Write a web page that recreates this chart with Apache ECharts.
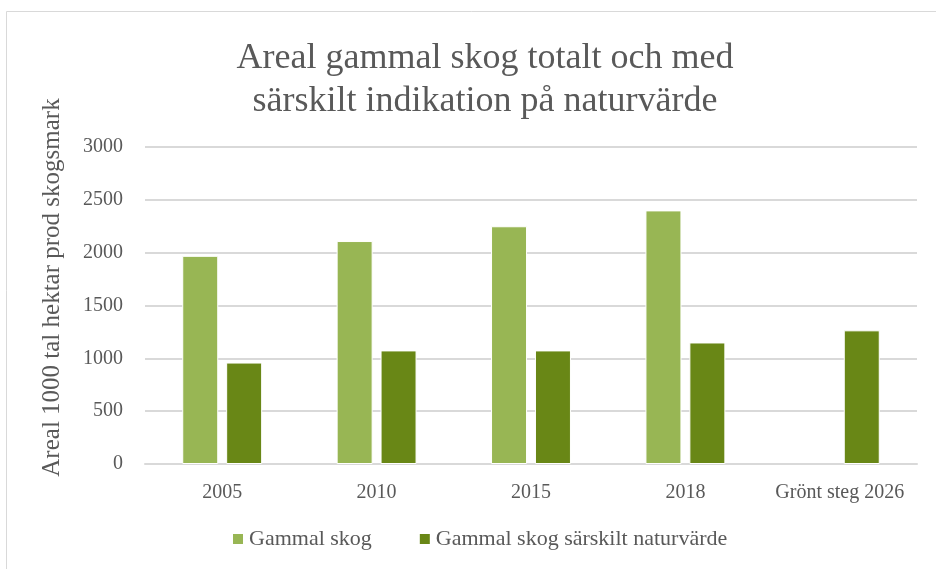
<!DOCTYPE html>
<html><head><meta charset="utf-8">
<script src="https://cdn.jsdelivr.net/npm/echarts@6/dist/echarts.min.js"></script>
<style>html,body{margin:0;padding:0;background:#fff}#c{width:936px;height:569px}</style>
</head><body><div id="c"></div>
<script>
var categories = ['2005', '2010', '2015', '2018', 'Grönt steg 2026'];
var gammalSkog = [1970, 2110, 2250, 2400, null];
var gammalSkogNatur = [960, 1075, 1075, 1150, 1265];
var seriesNames = ['Gammal skog', 'Gammal skog särskilt naturvärde'];
var font = 'Liberation Serif';
var chart = echarts.init(document.getElementById('c'));
chart.setOption({
  animation: false,
  backgroundColor: '#fff',
  graphic: [{type: 'rect', shape: {x: 6.5, y: 11.5, width: 940, height: 570}, style: {fill: 'none', stroke: '#d9d9d9', lineWidth: 1}}],
  title: {
    text: 'Areal gammal skog totalt och med\nsärskilt indikation på naturvärde',
    left: 480, top: 32, textAlign: 'center',
    textStyle: {fontFamily: font, fontSize: 36, fontWeight: 'normal', color: '#595959', lineHeight: 43}
  },
  legend: {
    data: seriesNames, bottom: 14, left: 226, itemWidth: 12, itemHeight: 12, itemGap: 46,
    icon: 'rect',
    textStyle: {fontFamily: font, fontSize: 22, color: '#595959'}
  },
  grid: {left: 145, right: 19, top: 147, bottom: 105},
  xAxis: {
    type: 'category', data: categories,
    axisLine: {lineStyle: {color: '#d9d9d9', width: 2}},
    axisTick: {show: false},
    axisLabel: {interval: 0, fontFamily: font, fontSize: 20, color: '#595959', margin: 19}
  },
  yAxis: {
    type: 'value', min: 0, max: 3000, interval: 500,
    name: 'Areal 1000 tal hektar prod skogsmark', nameLocation: 'middle', nameGap: 80,
    nameTextStyle: {fontFamily: font, fontSize: 25, color: '#595959', padding: [0, 0, 0, 36]},
    axisLabel: {fontFamily: font, fontSize: 20, color: '#595959', margin: 22, formatter: function (v) { return String(v); }},
    splitLine: {lineStyle: {color: '#d9d9d9', width: 2}}
  },
  series: [
    {name: seriesNames[0], type: 'bar', data: gammalSkog, barWidth: 36, barGap: '22%',
     itemStyle: {color: '#98b654', borderColor: '#ffffff', borderWidth: 1}},
    {name: seriesNames[1], type: 'bar', data: gammalSkogNatur, barWidth: 36,
     itemStyle: {color: '#698716', borderColor: '#ffffff', borderWidth: 1}}
  ]
});
</script></body></html>
